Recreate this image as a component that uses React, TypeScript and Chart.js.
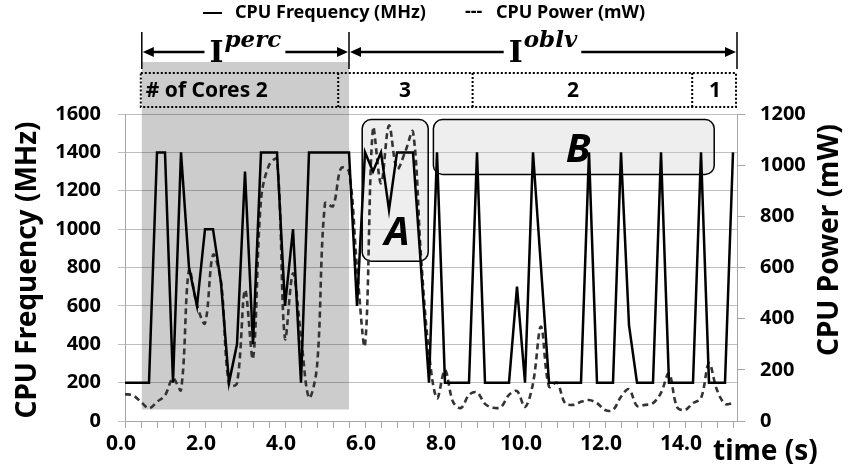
import React, { useEffect, useRef } from "react";
import { Chart, registerables } from "chart.js";

Chart.register(...registerables);

// ---- data ----
const SAMPLE_INTERVAL = 0.2; // seconds between samples
const FREQ_MHZ = [
  200, 200, 200, 200, 1400, 1400, 200, 1400, 800, 600,
  1000, 1000, 720, 200, 400, 1300, 400, 1400, 1400, 1400,
  600, 1000, 200, 1400, 1400, 1400, 1400, 1400, 1400, 600,
  1400, 1300, 1400, 1100, 1400, 1400, 1400, 800, 200, 1400,
  200, 200, 200, 200, 1400, 200, 200, 200, 200, 700,
  200, 1400, 800, 200, 200, 200, 200, 200, 1400, 200,
  200, 200, 1400, 500, 200, 200, 200, 1400, 200, 200,
  200, 200, 1400, 200, 200, 200, 1400,
];
const POWER_MW = [
  105, 100, 75, 50, 75, 100, 167, 121, 590, 453,
  382, 649, 545, 141, 147, 512, 245, 864, 1000, 1023,
  323, 577, 330, 91, 212, 851, 840, 988, 975, 600,
  297, 1144, 929, 1155, 985, 1050, 1130, 642, 265, 89,
  199, 75, 51, 102, 112, 67, 52, 55, 102, 117,
  55, 147, 369, 134, 150, 70, 63, 75, 82, 70,
  43, 43, 95, 124, 59, 63, 70, 110, 186, 55,
  43, 70, 89, 225, 121, 67, 70,
];
const X_LABEL_EVERY = 2.0; // seconds between labelled ticks
const X_TICK_STEP = 0.4;
const X_MAX = 15.3;
const FREQ_MAX = 1600;
const POWER_MAX = 1200;
const Y_STEP = 200;

// ---- annotations (in data units) ----
const PERC_START = 0.42;
const PERC_END = 5.6;
const OBLV_END = 15.3;
const SHADE_BOTTOM_MHZ = 60;
const CORE_DIVIDERS = [5.33, 8.69, 14.18];
const CORE_LABELS = ["# of Cores 2", "3", "2", "1"];
const CORE_LABEL_T = [0.5, 7.0, 11.2, 14.75];
const BOXES = [
  { t0: 5.93, t1: 7.58, f0: 833, f1: 1571, label: "A", lt: 6.8, lf: 917 },
  { t0: 7.71, t1: 14.73, f0: 1285, f1: 1571, label: "B", lt: 11.33, lf: 1349 },
];
const LEGEND_FREQ = "CPU Frequency (MHz)";
const LEGEND_POWER = "CPU Power (mW)";
const TITLE_LEFT = "CPU Frequency (MHz)";
const TITLE_RIGHT = "CPU Power (mW)";
const TITLE_X = "time (s)";

const SANS = "'Noto Sans', 'DejaVu Sans', sans-serif";
const SERIF = "'DejaVu Serif', 'Liberation Serif', serif";

function roundRect(ctx: CanvasRenderingContext2D, x: number, y: number, w: number, h: number, r: number) {
  ctx.beginPath();
  ctx.moveTo(x + r, y);
  ctx.lineTo(x + w - r, y);
  ctx.arcTo(x + w, y, x + w, y + r, r);
  ctx.lineTo(x + w, y + h - r);
  ctx.arcTo(x + w, y + h, x + w - r, y + h, r);
  ctx.lineTo(x + r, y + h);
  ctx.arcTo(x, y + h, x, y + h - r, r);
  ctx.lineTo(x, y + r);
  ctx.arcTo(x, y, x + r, y, r);
  ctx.closePath();
}

function arrowHead(ctx: CanvasRenderingContext2D, x: number, y: number, dir: number) {
  ctx.beginPath();
  ctx.moveTo(x, y);
  ctx.lineTo(x - dir * 11, y - 5);
  ctx.lineTo(x - dir * 11, y + 5);
  ctx.closePath();
  ctx.fill();
}

function intervalLabel(ctx: CanvasRenderingContext2D, x0: number, x1: number, y: number, sup: string) {
  ctx.font = `bold 30px ${SERIF}`;
  const wI = ctx.measureText("I").width;
  ctx.font = `bold italic 23px ${SERIF}`;
  const wS = ctx.measureText(sup).width;
  const total = wI + wS + 1;
  const cx = (x0 + x1) / 2;
  const tx = cx - total / 2;
  ctx.strokeStyle = "#000";
  ctx.fillStyle = "#000";
  ctx.lineWidth = 2.5;
  ctx.setLineDash([]);
  ctx.beginPath();
  ctx.moveTo(x0 + 6, y);
  ctx.lineTo(tx - 5, y);
  ctx.moveTo(tx + total + 4, y);
  ctx.lineTo(x1 - 6, y);
  ctx.stroke();
  arrowHead(ctx, x0 + 1, y, -1);
  arrowHead(ctx, x1 - 1, y, 1);
  ctx.textAlign = "left";
  ctx.textBaseline = "alphabetic";
  ctx.font = `bold 30px ${SERIF}`;
  ctx.fillText("I", tx, y + 10);
  ctx.font = `bold italic 23px ${SERIF}`;
  ctx.fillText(sup, tx + wI + 1, y - 5);
}

const overlayPlugin = {
  id: "overlay",
  beforeDraw(chart: any) {
    const { ctx, scales } = chart;
    const x = scales.x;
    const y = scales.y;
    ctx.save();
    ctx.fillStyle = "#cccccc";
    const x0 = x.getPixelForValue(PERC_START);
    const x1 = x.getPixelForValue(PERC_END);
    ctx.fillRect(x0, 62, x1 - x0, y.getPixelForValue(SHADE_BOTTOM_MHZ) - 62);
    ctx.restore();
  },
  beforeDatasetsDraw(chart: any) {
    const { ctx, scales } = chart;
    const x = scales.x;
    const y = scales.y;
    ctx.save();
    for (const b of BOXES) {
      const bx0 = x.getPixelForValue(b.t0);
      const bx1 = x.getPixelForValue(b.t1);
      const by0 = y.getPixelForValue(b.f1);
      const by1 = y.getPixelForValue(b.f0);
      roundRect(ctx, bx0, by0, bx1 - bx0, by1 - by0, 9);
      ctx.fillStyle = "rgba(205,205,205,0.35)";
      ctx.fill();
      ctx.lineWidth = 1.5;
      ctx.strokeStyle = "#000";
      ctx.stroke();
      ctx.fillStyle = "#000";
      ctx.font = `bold italic 40px ${SANS}`;
      ctx.textAlign = "center";
      ctx.textBaseline = "alphabetic";
      ctx.fillText(b.label, x.getPixelForValue(b.lt), y.getPixelForValue(b.lf));
    }
    ctx.restore();
  },
  afterDraw(chart: any) {
    const { ctx, scales } = chart;
    const x = scales.x;
    ctx.save();
    ctx.fillStyle = "#000";
    ctx.strokeStyle = "#000";

    // legend
    ctx.font = `bold 18px ${SANS}`;
    ctx.textBaseline = "middle";
    ctx.textAlign = "left";
    ctx.lineWidth = 2;
    ctx.beginPath();
    ctx.moveTo(203, 13);
    ctx.lineTo(222, 13);
    ctx.stroke();
    ctx.fillText(LEGEND_FREQ, 235, 13);
    ctx.fillText("---", 465, 12);
    ctx.fillText(LEGEND_POWER, 496, 13);

    // interval bars
    const xp0 = x.getPixelForValue(PERC_START);
    const xp1 = x.getPixelForValue(PERC_END);
    const xo1 = x.getPixelForValue(OBLV_END);
    ctx.lineWidth = 1.5;
    ctx.beginPath();
    for (const xx of [xp0, xp1, xo1]) {
      ctx.moveTo(xx, 32);
      ctx.lineTo(xx, 69);
    }
    ctx.stroke();
    intervalLabel(ctx, xp0, xp1, 52, "perc");
    intervalLabel(ctx, xp1, xo1, 52, "oblv");

    // cores row
    ctx.setLineDash([2, 2]);
    ctx.lineWidth = 2;
    ctx.strokeStyle = "#000";
    ctx.strokeRect(xp0 - 1, 73, xo1 - xp0, 34);
    ctx.beginPath();
    for (const d of CORE_DIVIDERS) {
      const dx = x.getPixelForValue(d);
      ctx.moveTo(dx, 73);
      ctx.lineTo(dx, 107);
    }
    ctx.stroke();
    ctx.setLineDash([]);
    ctx.font = `bold 21px ${SANS}`;
    ctx.textBaseline = "middle";
    CORE_LABELS.forEach((lab, i) => {
      if (i === 0) {
        ctx.textAlign = "left";
        ctx.fillText(lab, xp0 + 4, 91);
      } else {
        ctx.textAlign = "center";
        ctx.fillText(lab, x.getPixelForValue(CORE_LABEL_T[i]), 91);
      }
    });

    // axis titles
    ctx.font = `bold 28px ${SANS}`;
    ctx.textAlign = "center";
    ctx.textBaseline = "middle";
    ctx.save();
    ctx.translate(28, 270);
    ctx.rotate(-Math.PI / 2);
    ctx.fillText(TITLE_LEFT, 0, 0);
    ctx.restore();
    ctx.save();
    ctx.translate(830, 240);
    ctx.rotate(-Math.PI / 2);
    ctx.fillText(TITLE_RIGHT, 0, 0);
    ctx.restore();
    ctx.textAlign = "left";
    ctx.fillText(TITLE_X, 713, 452);
    ctx.restore();
  },
};

export default function App() {
  const ref = useRef<HTMLCanvasElement>(null);
  useEffect(() => {
    document.body.style.margin = "0";
    const canvas = ref.current;
    if (!canvas) return;
    const times = FREQ_MHZ.map((_, i) => Math.round(i * SAMPLE_INTERVAL * 10) / 10);
    const tickFont = { family: SANS, size: 20, weight: "bold" as const };
    const plain = (v: any) => String(Math.round(Number(v)));
    const chart = new Chart(canvas, {
      type: "line",
      data: {
        datasets: [
          {
            label: LEGEND_FREQ,
            data: FREQ_MHZ.map((v, i) => ({ x: times[i], y: v })),
            yAxisID: "y",
            borderColor: "#000000",
            borderWidth: 2.5,
            pointRadius: 0,
            tension: 0,
            order: 0,
          },
          {
            label: LEGEND_POWER,
            data: POWER_MW.map((v, i) => ({ x: times[i], y: v })),
            yAxisID: "y1",
            borderColor: "#333333",
            borderWidth: 2.6,
            borderDash: [6, 4],
            pointRadius: 0,
            tension: 0.35,
            order: 1,
          },
        ],
      },
      options: {
        responsive: false,
        animation: false,
        devicePixelRatio: 1,
        layout: { padding: { top: 114, left: 0, right: 0, bottom: 0 } },
        plugins: { legend: { display: false }, tooltip: { enabled: false } },
        scales: {
          x: {
            type: "linear",
            min: 0,
            max: X_MAX,
            afterFit: (s: any) => {
              s.height = 52;
            },
            border: { display: true, color: "#a6a6a6", width: 1 },
            grid: { drawOnChartArea: false, tickLength: 7, color: "#a6a6a6" },
            ticks: {
              stepSize: X_TICK_STEP,
              includeBounds: false,
              autoSkip: false,
              maxRotation: 0,
              padding: 3,
              labelOffset: -4,
              color: "#000",
              font: { family: SANS, size: 21, weight: "bold" },
              callback: (v: any) => {
                const r = Math.round(Number(v) * 10);
                return r % Math.round(X_LABEL_EVERY * 10) === 0 ? (r / 10).toFixed(1) : "";
              },
            },
          },
          y: {
            position: "left",
            min: 0,
            max: FREQ_MAX,
            afterFit: (s: any) => {
              s.width = 125;
            },
            border: { display: true, color: "#a6a6a6" },
            grid: { color: "rgba(0,0,0,0.25)", tickLength: 7 },
            ticks: { stepSize: Y_STEP, padding: 17, color: "#000", font: tickFont, callback: plain },
          },
          y1: {
            position: "right",
            min: 0,
            max: POWER_MAX,
            afterFit: (s: any) => {
              s.width = 111;
            },
            border: { display: true, color: "#a6a6a6" },
            grid: { drawOnChartArea: false, tickLength: 8, color: "#a6a6a6" },
            ticks: { stepSize: Y_STEP, padding: 15, color: "#000", font: tickFont, callback: plain },
          },
        },
      },
      plugins: [overlayPlugin],
    } as any);
    return () => chart.destroy();
  }, []);
  return (
    <div style={{ position: "fixed", left: 0, top: 0, width: 848, height: 473, background: "#fff" }}>
      <canvas ref={ref} width={848} height={473} style={{ display: "block" }} />
    </div>
  );
}
